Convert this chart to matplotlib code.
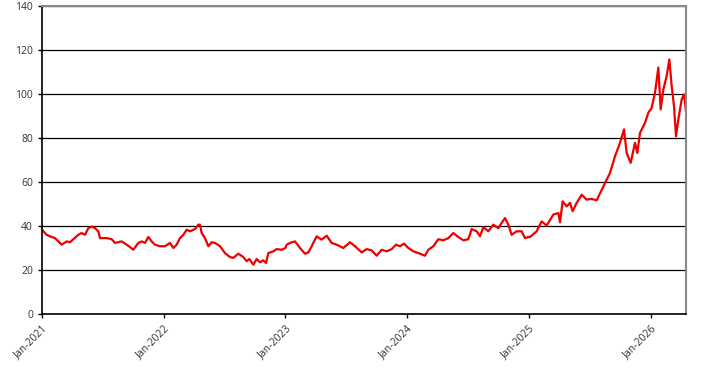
import pandas as pd
import matplotlib.pyplot as plt
import matplotlib.dates as mdates

plt.rcParams['font.family'] = ['Open Sans', 'DejaVu Sans']

dates = [
    '2021-01-01', '2021-01-05', '2021-01-15', '2021-01-30', '2021-02-09', '2021-02-19',
    '2021-03-01', '2021-03-16', '2021-03-26', '2021-04-05', '2021-04-20', '2021-04-30',
    '2021-05-10', '2021-05-20', '2021-05-30', '2021-06-09', '2021-06-19', '2021-06-24',
    '2021-07-14', '2021-07-29', '2021-08-08', '2021-08-28', '2021-09-17', '2021-10-02',
    '2021-10-17', '2021-10-27', '2021-11-06', '2021-11-16', '2021-11-26', '2021-12-06',
    '2021-12-21',
    '2022-01-05', '2022-01-20', '2022-01-30', '2022-02-09', '2022-02-19', '2022-03-01',
    '2022-03-11', '2022-03-21', '2022-04-05', '2022-04-15', '2022-04-20', '2022-04-25',
    '2022-05-05', '2022-05-15', '2022-05-25', '2022-06-04', '2022-06-19', '2022-07-04',
    '2022-07-19', '2022-07-29', '2022-08-13', '2022-08-28', '2022-09-07', '2022-09-15',
    '2022-09-27', '2022-10-07', '2022-10-17', '2022-10-27', '2022-11-04', '2022-11-11',
    '2022-11-26', '2022-12-06', '2022-12-21',
    '2023-01-01', '2023-01-05', '2023-01-15', '2023-01-30', '2023-02-14', '2023-03-01',
    '2023-03-11', '2023-03-21', '2023-04-05', '2023-04-20', '2023-05-05', '2023-05-20',
    '2023-06-04', '2023-06-24', '2023-07-14', '2023-07-29', '2023-08-18', '2023-09-02',
    '2023-09-17', '2023-10-02', '2023-10-17', '2023-11-01', '2023-11-16', '2023-11-29',
    '2023-12-11', '2023-12-23',
    '2024-01-05', '2024-01-20', '2024-02-04', '2024-02-24', '2024-03-05', '2024-03-20',
    '2024-04-04', '2024-04-19', '2024-05-04', '2024-05-19', '2024-06-03', '2024-06-18',
    '2024-07-03', '2024-07-13', '2024-07-28', '2024-08-07', '2024-08-17', '2024-09-01',
    '2024-09-16', '2024-10-01', '2024-10-11', '2024-10-21', '2024-10-31', '2024-11-10',
    '2024-11-25', '2024-12-10', '2024-12-20', '2024-12-30',
    '2025-01-04', '2025-01-24', '2025-02-08', '2025-02-23', '2025-03-15', '2025-03-30',
    '2025-04-04', '2025-04-12', '2025-04-24', '2025-05-04', '2025-05-12', '2025-05-24',
    '2025-06-08', '2025-06-23', '2025-07-08', '2025-07-23', '2025-07-31', '2025-08-12',
    '2025-08-22', '2025-09-01', '2025-09-16', '2025-10-01', '2025-10-13', '2025-10-21',
    '2025-11-02', '2025-11-15', '2025-11-22', '2025-11-30', '2025-12-15', '2025-12-25',
    '2026-01-04', '2026-01-14', '2026-01-24', '2026-01-31', '2026-02-08', '2026-02-18',
    '2026-02-26', '2026-03-05', '2026-03-12', '2026-03-18', '2026-03-25', '2026-04-04',
    '2026-04-11', '2026-04-17',
]
values = [
    38.5, 37.6, 36.0, 35.0, 34.5, 33.0,
    31.5, 33.0, 32.6, 34.0, 36.0, 36.8,
    36.0, 39.0, 39.8, 39.0, 37.6, 34.5,
    34.5, 34.0, 32.3, 33.0, 31.0, 29.2,
    32.3, 33.0, 32.3, 35.0, 33.0, 31.5,
    30.8,
    30.8, 32.3, 30.0, 31.5, 34.5, 36.0,
    38.3, 37.6, 38.6, 40.6, 40.6, 36.8,
    34.5, 30.8, 32.6, 32.3, 30.8, 27.7,
    25.9, 25.5, 27.4, 25.9, 24.0, 25.0,
    22.4, 25.0, 23.5, 24.4, 23.2, 27.7,
    28.5, 29.5, 29.2,
    30.0, 31.5, 32.3, 33.0, 30.0, 27.4,
    28.0, 30.8, 35.3, 33.8, 35.6, 32.3,
    31.5, 30.0, 32.6, 30.8, 28.0, 29.5,
    28.9, 26.5, 29.2, 28.5, 29.5, 31.5,
    30.8, 32.0,
    30.0, 28.5, 27.7, 26.5, 29.2, 30.8,
    34.0, 33.5, 34.5, 36.8, 35.0, 33.5,
    34.0, 38.6, 37.6, 35.3, 39.5, 37.6,
    40.6, 39.0, 41.4, 43.6, 40.6, 36.0,
    37.6, 37.6, 34.5, 35.0,
    35.0, 37.6, 42.1, 40.2, 45.2, 45.9,
    41.7, 51.2, 48.9, 50.5, 46.7, 50.5,
    54.2, 52.0, 52.3, 51.7, 54.2, 58.0,
    61.0, 64.1, 71.7, 77.8, 83.9, 73.2,
    68.7, 77.8, 73.2, 82.3, 86.9, 91.5,
    93.7, 100.6, 112.0, 93.0, 102.0, 108.2,
    115.7, 103.6, 94.5, 80.8, 88.4, 97.5,
    99.8, 92.0,
]
year_ticks = ['2021-01-01', '2022-01-01', '2023-01-01', '2024-01-01', '2025-01-01', '2026-01-01']

data = pd.DataFrame({'date': pd.to_datetime(dates), 'value': values})

fig = plt.figure(figsize=(7.06, 3.73), dpi=100)
ax = fig.add_axes([42 / 706, 1 - 314 / 373, 644 / 706, 308 / 373])

ax.plot(data['date'], data['value'], color='#ee0000', lw=1.6)

ax.set_ylim(0, 140)
ax.set_yticks(range(0, 141, 20))
ax.set_xlim(pd.Timestamp('2021-01-01'), pd.Timestamp('2026-04-17'))
ax.set_xticks(pd.to_datetime(year_ticks))
ax.xaxis.set_major_formatter(mdates.DateFormatter('%b-%Y'))
ax.grid(axis='y', color='black', lw=0.9)
ax.set_axisbelow(True)

for lbl in ax.get_xticklabels():
    lbl.set_rotation(45)
    lbl.set_ha('right')
    lbl.set_rotation_mode('anchor')
ax.tick_params(labelsize=7.5, colors='#333333', length=3, width=1)
ax.tick_params(axis='both', color='black')

ax.spines['left'].set_color('black')
ax.spines['bottom'].set_color('black')
ax.spines['left'].set_linewidth(1.2)
ax.spines['bottom'].set_linewidth(1.2)
ax.spines['top'].set_color('#888888')
ax.spines['right'].set_color('#888888')
ax.spines['top'].set_linewidth(1.5)
ax.spines['right'].set_linewidth(1.5)

plt.savefig('out.png', dpi=100)
